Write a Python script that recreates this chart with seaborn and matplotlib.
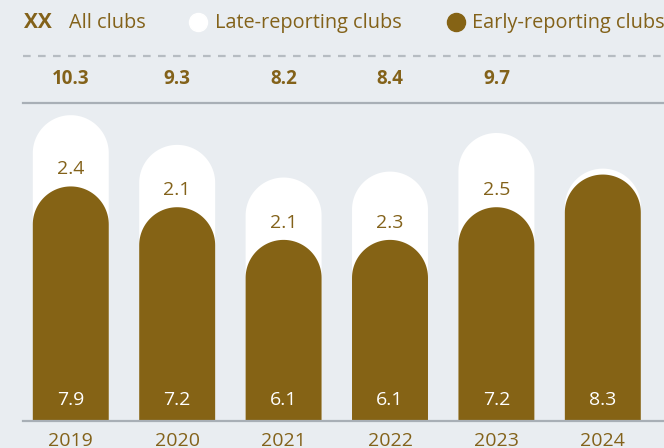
import numpy as np
import pandas as pd
import matplotlib
matplotlib.use("Agg")
import matplotlib.pyplot as plt
import seaborn as sns
from matplotlib.path import Path
from matplotlib.patches import PathPatch
from matplotlib.lines import Line2D

# Reporting data (all values in the same unit)
years = ["2019", "2020", "2021", "2022", "2023", "2024"]
early = [7.9, 7.2, 6.1, 6.1, 7.2, 8.3]
late = [2.4, 2.1, 2.1, 2.3, 2.5, 0.2]
all_clubs = [10.3, 9.3, 8.2, 8.4, 9.7, None]
show_late = [True, True, True, True, True, False]

BG = "#e9edf1"
BROWN = "#856315"
TEXT = "#83621a"
LINE = "#a8afb6"
DASH = "#b6bcc2"

sns.set_theme(style="white")
plt.rcParams["font.family"] = ["Open Sans", "DejaVu Sans"]
plt.rcParams["lines.scale_dashes"] = False

W, H = 664, 448
fig = plt.figure(figsize=(W / 100, H / 100), dpi=100, facecolor=BG)
ax_left, ax_right, ax_bottom, ax_top = 23, 664, 421, 102.7
ax = fig.add_axes([ax_left / W, (H - ax_bottom) / H,
                   (ax_right - ax_left) / W, (ax_bottom - ax_top) / H])
ax.set_facecolor(BG)

df = pd.DataFrame({"year": years, "early": early, "late": late})
df["total"] = df["early"] + df["late"]

bar_w = 0.714
sns.barplot(data=df, x="year", y="total", color="white", width=bar_w,
            saturation=1, edgecolor="none", linewidth=0, ax=ax)
sns.barplot(data=df, x="year", y="early", color=BROWN, width=bar_w,
            saturation=1, edgecolor="none", linewidth=0, ax=ax)

ax.set_xlim(-0.449, 5.575)
ax.set_ylim(0, 10.72)

# Turn every bar into a pill with a semicircular top
ax_px_w = ax_right - ax_left
ax_px_h = ax_bottom - ax_top
x_per_px = (ax.get_xlim()[1] - ax.get_xlim()[0]) / ax_px_w
y_per_px = (ax.get_ylim()[1] - ax.get_ylim()[0]) / ax_px_h
for rect in list(ax.patches):
    x0, w, h = rect.get_x(), rect.get_width(), rect.get_height()
    rx = w / 2
    ry = (rx / x_per_px) * y_per_px
    xc = x0 + rx
    t = np.linspace(np.pi, 0, 60)
    verts = [(x0, 0), (x0, h - ry)]
    verts += list(zip(xc + rx * np.cos(t), h - ry + ry * np.sin(t)))
    verts += [(x0 + w, 0), (x0, 0)]
    codes = [Path.MOVETO] + [Path.LINETO] * (len(verts) - 2) + [Path.CLOSEPOLY]
    pill = PathPatch(Path(verts, codes), facecolor=rect.get_facecolor(),
                     edgecolor="none", zorder=rect.get_zorder())
    rect.remove()
    ax.add_patch(pill)

# Axis styling
for side in ["left", "right"]:
    ax.spines[side].set_visible(False)
ax.spines["top"].set_color(LINE)
ax.spines["top"].set_linewidth(1.6)
ax.spines["bottom"].set_color(LINE)
ax.spines["bottom"].set_linewidth(1.6)
ax.set_yticks([])
ax.set_xlabel("")
ax.set_ylabel("")
ax.tick_params(axis="x", length=0, pad=8, labelsize=14, labelcolor=TEXT)

# Value labels
px = 1 / y_per_px  # pixels per data unit
for i, (e, l, tot, show) in enumerate(zip(early, late, all_clubs, show_late)):
    ax.text(i, 21 / px, f"{e:.1f}", ha="center", va="center",
            color="white", fontsize=14)
    if show:
        ax.text(i, e + 17 / px, f"{l:.1f}", ha="center", va="center",
                color=TEXT, fontsize=14)
    if tot is not None:
        ax.text(i, 1 + (ax_top - 79.5) / ax_px_h, f"{tot:.1f}",
                transform=ax.get_xaxis_transform(), ha="center", va="center",
                color=TEXT, fontsize=13.5, fontweight="bold", clip_on=False)

# Dashed separator above the totals row
fig.add_artist(Line2D([ax_left / W, 662 / W], [1 - 55.7 / H, 1 - 55.7 / H],
                      transform=fig.transFigure, color=DASH, lw=1.6,
                      linestyle=(0, (5.5, 5.3))))

# Legend row
base = 1 - 28 / H
fig.text(24 / W, base, "XX", transform=fig.transFigure, color=TEXT,
         fontsize=15, fontweight="bold", va="baseline")
fig.text(69 / W, base, "All clubs", color=TEXT, fontsize=14.3, va="baseline")
fig.add_artist(Line2D([197.7 / W], [1 - 22 / H], transform=fig.transFigure,
                      marker="o", markersize=13, color="white", linestyle="none"))
fig.text(215 / W, base, "Late-reporting clubs", color=TEXT, fontsize=14.3,
         va="baseline")
fig.add_artist(Line2D([456 / W], [1 - 22 / H], transform=fig.transFigure,
                      marker="o", markersize=13, color=BROWN, linestyle="none"))
fig.text(472 / W, base, "Early-reporting clubs", color=TEXT, fontsize=14.3,
         va="baseline")

fig.savefig("out.png", dpi=100, facecolor=BG)
